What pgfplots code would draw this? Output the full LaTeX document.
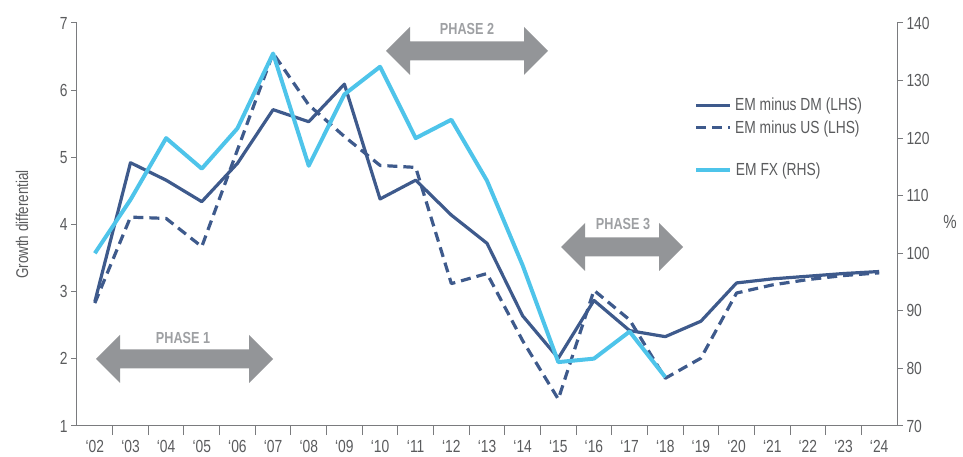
\documentclass[border=0pt]{standalone}
\usepackage{fontspec}
\setmainfont{Liberation Sans}[FakeStretch=0.79]
\usepackage{pgfplots}
\pgfplotsset{compat=1.18}

\definecolor{navy}{HTML}{3E5A8C}
\definecolor{sky}{HTML}{4EC4EA}
\definecolor{arrowgray}{HTML}{939598}
\definecolor{phasegray}{HTML}{9EA0A3}
\definecolor{txtgray}{HTML}{5A5B5D}
\definecolor{axgray}{HTML}{7A7B7E}

\newcommand{\tickfont}{\fontsize{17.5}{20}\selectfont}
\newcommand{\phasefont}{\fontsize{16}{18}\selectfont\bfseries}

\pgfplotstableread{
x dm us
0 2.85 2.83
1 4.92 4.11
2 4.66 4.09
3 4.34 3.67
4 4.91 5.11
5 5.71 6.55
6 5.53 5.78
7 6.09 5.31
8 4.38 4.88
9 4.66 4.85
10 4.14 3.12
11 3.72 3.27
12 2.64 2.27
13 2.01 1.40
14 2.87 3.02
15 2.42 2.58
16 2.33 1.71
17 2.56 2.01
18 3.13 2.98
19 3.19 3.10
20 3.23 3.18
21 3.27 3.24
22 3.30 3.28
}\growth

\pgfplotstableread{
x fx
0 100.0
1 109.3
2 120.0
3 114.7
4 121.7
5 134.7
6 115.2
7 127.6
8 132.4
9 120.0
10 123.2
11 112.6
12 97.9
13 81.1
14 81.7
15 86.4
16 78.5
}\emfx

\newcommand{\phasearrow}[3]{%
  \fill[arrowgray] (#1,#3) -- (#1+24,#3+24) -- (#1+24,#3+9.5) -- (#2-24,#3+9.5)
    -- (#2-24,#3+24) -- (#2,#3) -- (#2-24,#3-24) -- (#2-24,#3-9.5)
    -- (#1+24,#3-9.5) -- (#1+24,#3-24) -- cycle;}

\pgfplotsset{
  common/.style={
    scale only axis, width=820pt, height=403pt,
    xmin=-0.5, xmax=22.5,
    axis line style={axgray, line width=1pt, -},
    tick align=outside,
    major tick length=6pt, minor tick length=9pt,
    tick style={axgray, line width=1pt},
    tick label style={font=\tickfont, text=txtgray},
    /pgf/number format/assume math mode=true,
    legend cell align=left,
    legend image code/.code={\draw[##1] (0pt,0pt) -- (34pt,0pt);},
  }
}

\begin{document}
\begin{tikzpicture}
\begin{axis}[
  common,
  ymin=1, ymax=7,
  axis x line*=bottom, axis y line*=left,
  xtick={0,...,22},
  xticklabels={‘02,‘03,‘04,‘05,‘06,‘07,‘08,‘09,‘10,‘11,‘12,‘13,‘14,‘15,‘16,‘17,‘18,‘19,‘20,‘21,‘22,‘23,‘24},
  x tick label style={yshift=-5pt},
  minor xtick={0.5,1.5,...,21.5},
  major x tick style={draw=none},
  ytick={1,...,7},
  ylabel={Growth differential},
  every axis y label/.style={at={(axis description cs:-0.067,0.5)}, anchor=center, rotate=90,
     font=\fontsize{17}{20}\selectfont, text=txtgray},
  legend style={draw=none, fill=none, inner sep=0pt, outer sep=0pt,
     at={(axis description cs:0.753,0.768)}, anchor=west,
     font=\tickfont, text=txtgray, row sep=6pt,
     nodes={inner xsep=3.5pt, inner ysep=1pt}},
]
\addplot[navy, line width=3.2pt, line join=round] table[x=x, y=dm] {\growth};
\addlegendentry{EM minus DM (LHS)}
\addplot[navy, line width=3.2pt, dash pattern=on 10pt off 6pt, line join=round] table[x=x, y=us] {\growth};
\addlegendentry{EM minus US (LHS)}
\coordinate (ll) at (rel axis cs:0,0);
\coordinate (ur) at (rel axis cs:1,1);
\end{axis}
\begin{axis}[
  common,
  ymin=70, ymax=140,
  axis x line=none, axis y line*=right,
  ytick={70,80,...,140},
  ylabel={\%},
  every axis y label/.style={at={(axis description cs:1.0646,0.506)}, anchor=center,
     font=\fontsize{19}{22}\selectfont, text=txtgray},
  legend style={draw=none, fill=none, inner sep=0pt, outer sep=0pt,
     at={(axis description cs:0.753,0.635)}, anchor=west,
     font=\tickfont, text=txtgray,
     nodes={inner xsep=3.5pt, inner ysep=1pt}},
]
\addplot[sky, line width=4pt, line join=round] table[x=x, y=fx] {\emfx};
\addlegendentry{EM FX (RHS)}
\end{axis}
\begin{scope}[shift={(ll)}, x=1pt, y=1pt]
  \phasearrow{19}{196}{67}
  \node[font=\phasefont, text=phasegray] at (106,88) {PHASE 1};
  \phasearrow{309}{471}{375}
  \node[font=\phasefont, text=phasegray] at (390,397) {PHASE 2};
  \phasearrow{484}{606}{179}
  \node[font=\phasefont, text=phasegray] at (546,202) {PHASE 3};
\end{scope}
\pgfresetboundingbox
\path ([shift={(-77pt,-31pt)}]ll) rectangle ([shift={(66pt,23pt)}]ur);
\end{tikzpicture}
\end{document}
